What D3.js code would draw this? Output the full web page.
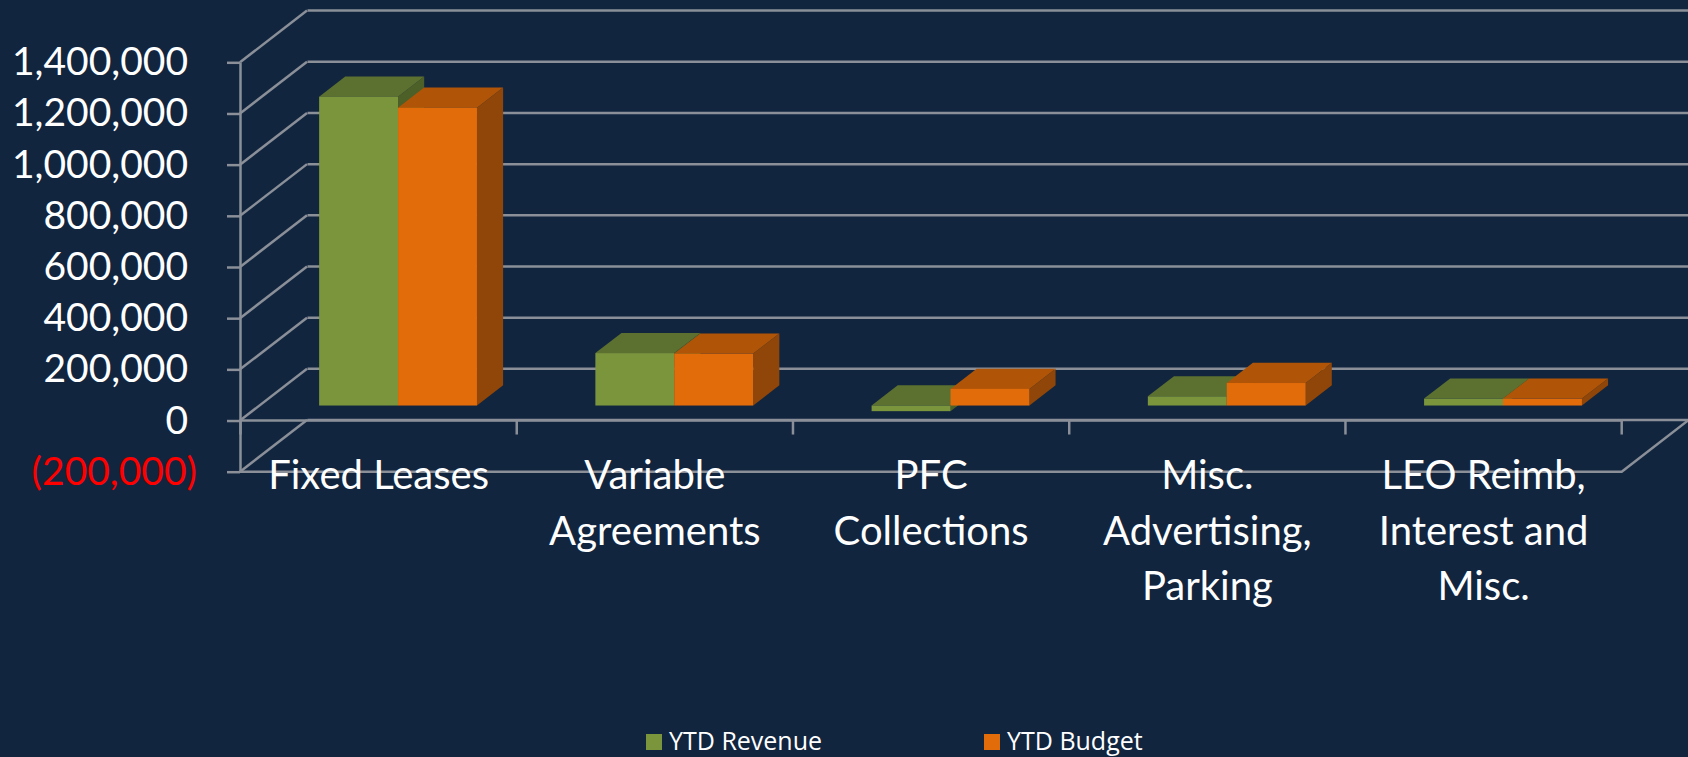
<!DOCTYPE html>
<html>
<head>
<meta charset="utf-8">
<script src="https://cdn.jsdelivr.net/npm/d3@7"></script>
<style>
  body { margin: 0; background: #12253f; }
</style>
</head>
<body>
<script>
// data
var categories = ['Fixed Leases', 'Variable Agreements', 'PFC Collections', 'Misc. Advertising, Parking', 'LEO Reimb, Interest and Misc.']
var categoryLines = [['Fixed Leases'], ['Variable', 'Agreements'], ['PFC', 'Collections'], ['Misc.', 'Advertising,', 'Parking'], ['LEO Reimb,', 'Interest and', 'Misc.']]
var seriesNames = ['YTD Revenue', 'YTD Budget']
var revenue = [1207000, 205000, -22000, 36000, 27000]
var budget = [1164000, 203000, 65000, 88000, 27000]
var yTicks = [-200000, 0, 200000, 400000, 600000, 800000, 1000000, 1200000, 1400000]

var width = 1688
var height = 757
var gridColor = '#8a8f98'
var gridWidth = 2.5
var colors = {
    'YTD Revenue': { front: '#7b953d', top: '#5c7130', side: '#4d6027' },
    'YTD Budget': { front: '#e36c0a', top: '#b05507', side: '#8f4608' }
}

// depth of the 3d box, and where the bars sit inside it
var DX = 67, DY = -51.7
var f0 = 0.29, f1 = 0.68

var svg = d3.select('body')
    .append('svg')
    .attr('width', width)
    .attr('height', height)

svg.append('rect')
    .attr('width', width)
    .attr('height', height)
    .attr('fill', '#12253f')

var yScale = d3.scaleLinear()
    .domain([-200000, 1400000])
    .range([471.7, 62.3])

var xScale = d3.scaleBand()
    .domain(categories)
    .range([240.5, 1621.7])

var sScale = d3.scaleBand()
    .domain(seriesNames)
    .range([0, xScale.bandwidth()])
    .paddingOuter(0.75)

var left = xScale.range()[0]
var right = xScale.range()[1]

//back wall gridlines
svg.selectAll('.grid')
    .data(yTicks)
    .enter()
    .append('line')
    .attr('x1', left + DX)
    .attr('x2', right + DX)
    .attr('y1', d => yScale(d) + DY)
    .attr('y2', d => yScale(d) + DY)
    .style('stroke', gridColor)
    .style('stroke-width', gridWidth)

//side wall gridlines
svg.selectAll('.side')
    .data(yTicks)
    .enter()
    .append('line')
    .attr('x1', 240)
    .attr('x2', 240 + DX)
    .attr('y1', d => yScale(d))
    .attr('y2', d => yScale(d) + DY)
    .style('stroke', gridColor)
    .style('stroke-width', gridWidth)

//floor front edge
var floorY = yScale(yTicks[0])
svg.append('path')
    .attr('d', 'M240,' + floorY + 'L' + right + ',' + floorY + 'L' + (right + DX) + ',' + (floorY + DY))
    .style('fill', 'none')
    .style('stroke', gridColor)
    .style('stroke-width', gridWidth)

//category axis at zero
svg.append('line')
    .attr('x1', 240)
    .attr('x2', right)
    .attr('y1', yScale(0))
    .attr('y2', yScale(0))
    .style('stroke', gridColor)
    .style('stroke-width', gridWidth)

svg.selectAll('.ctick')
    .data([left].concat(categories.map(c => xScale(c) + xScale.bandwidth())))
    .enter()
    .append('line')
    .attr('x1', d => d)
    .attr('x2', d => d)
    .attr('y1', yScale(0))
    .attr('y2', yScale(0) + 14)
    .style('stroke', gridColor)
    .style('stroke-width', gridWidth)

//y axis
var yAxis = svg.append('g')
    .attr('transform', 'translate(240,0)')
    .call(d3.axisLeft(yScale)
        .tickValues(yTicks)
        .tickSize(13)
        .tickSizeOuter(0)
        .tickPadding(39)
        .tickFormat(d => d < 0 ? '(' + d3.format(',')(-d) + ')' : d3.format(',')(d)))

yAxis.select('.domain').style('stroke', gridColor).style('stroke-width', gridWidth)
yAxis.selectAll('.tick line').style('stroke', gridColor).style('stroke-width', gridWidth)
yAxis.selectAll('.tick text')
    .style('font-family', 'Lato')
    .style('font-size', '39px')
    .attr('dx', d => d < 0 ? 9 : 0)
    .style('fill', d => d < 0 ? '#ff0000' : '#ffffff')

//bars
var bars = []
categories.forEach(function(c, i) {
    bars.push({ cat: c, series: 'YTD Revenue', value: revenue[i] })
    bars.push({ cat: c, series: 'YTD Budget', value: budget[i] })
})

function pt(x, y, f) {
    return (x + f * DX) + ',' + (y + f * DY)
}

var bar = svg.selectAll('.bar')
    .data(bars)
    .enter()
    .append('g')

bar.each(function(d) {
    var g = d3.select(this)
    var x0 = xScale(d.cat) + sScale(d.series)
    var x1 = x0 + sScale.bandwidth()
    var yTop = yScale(Math.max(d.value, 0))
    var yBot = yScale(Math.min(d.value, 0))
    var col = colors[d.series]

    // right side
    g.append('polygon')
        .attr('points', [pt(x1, yTop, f0), pt(x1, yTop, f1), pt(x1, yBot, f1), pt(x1, yBot, f0)].join(' '))
        .style('fill', col.side)
    // top
    g.append('polygon')
        .attr('points', [pt(x0, yTop, f0), pt(x1, yTop, f0), pt(x1, yTop, f1), pt(x0, yTop, f1)].join(' '))
        .style('fill', col.top)
    // front
    g.append('rect')
        .attr('x', x0 + f0 * DX)
        .attr('y', yTop + f0 * DY)
        .attr('width', sScale.bandwidth())
        .attr('height', yBot - yTop)
        .style('fill', col.front)
})

//category labels
svg.selectAll('.clabel')
    .data(categories)
    .enter()
    .append('text')
    .attr('x', d => xScale(d) + xScale.bandwidth() / 2)
    .attr('y', 489)
    .attr('text-anchor', 'middle')
    .style('font-family', 'Lato')
    .style('font-size', '40px')
    .style('fill', '#ffffff')
    .each(function(d, i) {
        d3.select(this).selectAll('tspan')
            .data(categoryLines[i])
            .enter()
            .append('tspan')
            .attr('x', xScale(d) + xScale.bandwidth() / 2)
            .attr('dy', (t, j) => j == 0 ? 0 : 55.5)
            .text(t => t)
    })

//legend
var legend = svg.selectAll('.legend')
    .data(seriesNames)
    .enter()
    .append('g')
    .attr('transform', (d, i) => 'translate(' + (646 + i * 338) + ',734)')

legend.append('rect')
    .attr('width', 16)
    .attr('height', 16)
    .style('fill', d => colors[d].front)

legend.append('text')
    .text(d => d)
    .attr('x', 23)
    .attr('y', 16)
    .style('font-family', 'Open Sans')
    .style('font-size', '25px')
    .style('fill', '#ffffff')
</script>
</body>
</html>
